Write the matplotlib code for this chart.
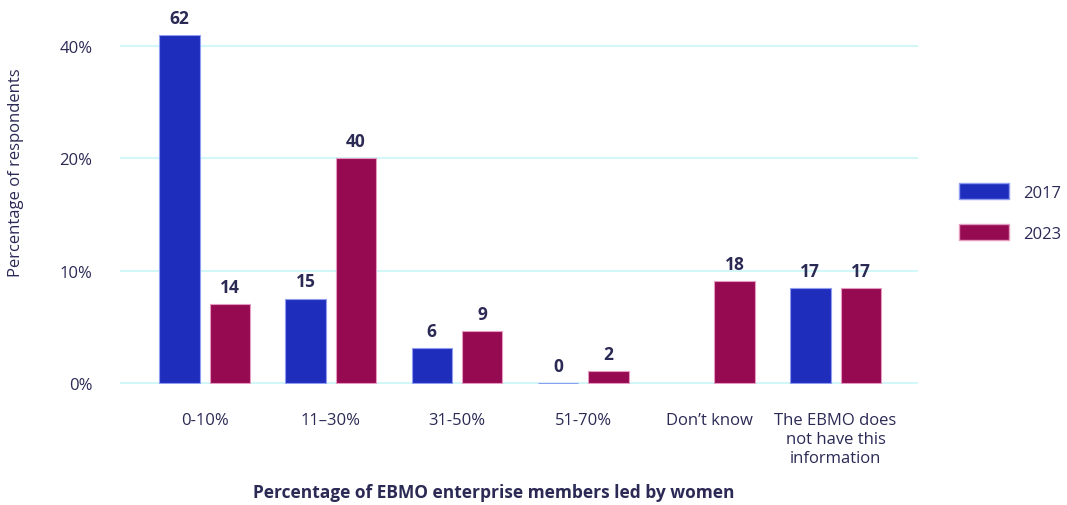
import numpy as np
import matplotlib.pyplot as plt
from matplotlib.patches import Patch

plt.rcParams['font.family'] = ['Open Sans', 'DejaVu Sans']

# data
categories = ['0-10%', '11\u201330%', '31-50%', '51-70%', 'Don\u2019t know',
              'The EBMO does\nnot have this\ninformation']
share_2017 = [31, 7.5, 3.1, 0, np.nan, 8.45]
share_2023 = [7, 20, 4.6, 1.05, 9.05, 8.45]
count_2017 = ['62', '15', '6', '0', '', '17']
count_2023 = ['14', '40', '9', '2', '18', '17']
ytick_vals = [0, 10, 20, 30]
ytick_labels = ['0%', '10%', '20%', '40%']

c17 = '#1f2dbd'
c23 = '#960a52'
txt = '#2b2a55'
grid = '#d3f6f8'

fig = plt.figure(figsize=(10.67, 5.06), dpi=100)
ax = fig.add_axes([0.1125, 0.239, 0.7475, 0.69])

x = np.arange(len(categories))
w = 0.32
b1 = ax.bar(x - 0.2, share_2017, w, color=c17, edgecolor='#8f9cf0', linewidth=0.8, zorder=3)
b2 = ax.bar(x + 0.2, share_2023, w, color=c23, edgecolor='#e59bbf', linewidth=0.8, zorder=3)

for bars, labs in ((b1, count_2017), (b2, count_2023)):
    for r, lab in zip(bars, labs):
        if not lab:
            continue
        h = r.get_height()
        ax.annotate(lab, (r.get_x() + r.get_width() / 2, h), xytext=(0, 6),
                    textcoords='offset points', ha='center', va='bottom',
                    fontsize=12.5, fontweight='bold', color=txt, clip_on=False)

ax.set_xlim(-0.67, 5.65)
ax.set_ylim(-0.1, 31)
ax.set_yticks(ytick_vals)
ax.set_yticklabels(ytick_labels)
ax.set_xticks(x)
ax.set_xticklabels(categories, linespacing=1.25)
ax.tick_params(axis='both', length=0, labelsize=12, labelcolor=txt)
ax.tick_params(axis='x', pad=20)
ax.tick_params(axis='y', pad=20)
for s in ax.spines.values():
    s.set_visible(False)
ax.yaxis.grid(True, color=grid, linewidth=1.5, zorder=0)
ax.set_axisbelow(True)

fig.text(0.015, 0.658, 'Percentage of respondents', rotation=90, ha='center', va='center',
         fontsize=12, color=txt)
fig.text(0.463, 0.025, 'Percentage of EBMO enterprise members led by women', ha='center',
         va='center', fontsize=12.5, fontweight='bold', color=txt)

handles = [Patch(facecolor=c17, edgecolor='#8f9cf0'), Patch(facecolor=c23, edgecolor='#e59bbf')]
fig.legend(handles, ['2017', '2023'], loc='center left', bbox_to_anchor=(0.885, 0.578),
           frameon=False, handlelength=3.0, handleheight=1.1, labelspacing=1.4,
           handletextpad=0.8, fontsize=12, labelcolor=txt)

fig.savefig('out.png', dpi=100)
